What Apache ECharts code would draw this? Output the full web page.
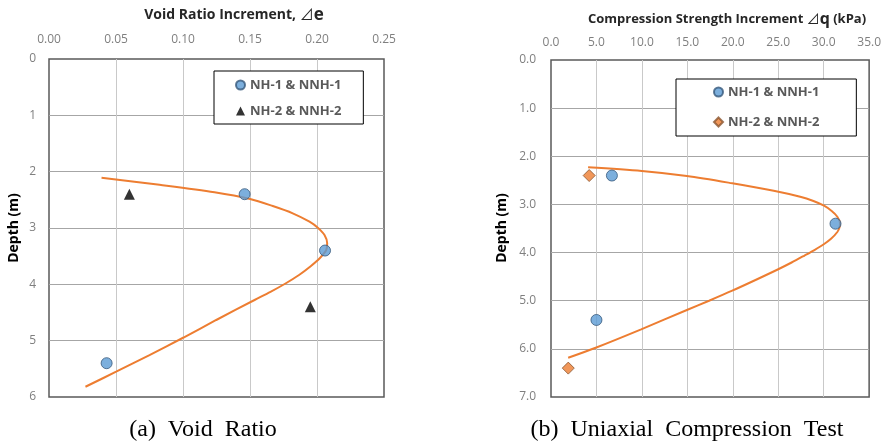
<!DOCTYPE html>
<html>
<head>
<meta charset="utf-8">
<script src="https://cdn.jsdelivr.net/npm/echarts@6/dist/echarts.min.js"></script>
<style>
  html, body { margin: 0; padding: 0; background: #ffffff; }
  #chart { width: 884px; height: 446px; }
</style>
</head>
<body>
<div id="chart"></div>
<script>
// ---- Panel (a): void ratio increment with depth ----
const voidTicksX = [0, 0.05, 0.10, 0.15, 0.20, 0.25];
const voidTicksY = [0, 1, 2, 3, 4, 5, 6];
const voidSet1 = [[0.146, 2.4], [0.206, 3.4], [0.043, 5.4]];          // NH-1 & NNH-1
const voidSet2 = [[0.060, 2.4], [0.195, 4.4]];                          // NH-2 & NNH-2
const voidTrend = [
  [0.0392, 2.107], [0.0825, 2.233], [0.1235, 2.365], [0.1501, 2.485], [0.1670, 2.610],
  [0.1819, 2.739], [0.1944, 2.888], [0.2006, 2.995], [0.2056, 3.124], [0.2076, 3.272],
  [0.2069, 3.391], [0.2022, 3.533], [0.1955, 3.675], [0.1866, 3.835], [0.1765, 3.985],
  [0.1653, 4.133], [0.1534, 4.278], [0.1248, 4.633], [0.1004, 4.944], [0.0750, 5.255],
  [0.0501, 5.551], [0.0272, 5.818]
];

// ---- Panel (b): unconfined compression strength increment with depth ----
const ucsTicksX = [0, 5, 10, 15, 20, 25, 30, 35];
const ucsTicksY = [0, 1, 2, 3, 4, 5, 6, 7];
const ucsSet1 = [[6.7, 2.4], [31.3, 3.4], [5.0, 5.4]];                  // NH-1 & NNH-1
const ucsSet2 = [[4.2, 2.4], [1.9, 6.4]];                               // NH-2 & NNH-2
const ucsTrend = [
  [4.08, 2.229], [9.99, 2.306], [14.95, 2.410], [19.94, 2.561], [24.50, 2.715],
  [27.42, 2.840], [28.87, 2.929], [30.04, 3.027], [30.88, 3.137], [31.50, 3.255],
  [31.80, 3.392], [31.74, 3.479], [31.50, 3.573], [30.84, 3.708], [29.97, 3.833],
  [28.98, 3.947], [27.89, 4.061], [26.47, 4.206], [24.94, 4.352], [22.50, 4.570],
  [19.94, 4.792], [17.39, 5.000], [14.95, 5.193], [9.92, 5.594], [4.92, 5.976],
  [1.89, 6.184]
];

const seriesNames = ['NH-1 & NNH-1', 'NH-2 & NNH-2'];

const SANS = "'Open Sans', 'Noto Sans CJK KR', sans-serif";
const SERIF = "'Liberation Serif', 'DejaVu Serif', serif";
const TICK_COLOR = '#7f7f7f';
const ORANGE = '#ED7D31';
const BLUE = '#5B9BD5';

function axisRange(ticks) {
  return { min: ticks[0], max: ticks[ticks.length - 1], interval: ticks[1] - ticks[0] };
}

function xAxisFor(gridIndex, ticks, digits, margin) {
  return Object.assign({
    type: 'value', gridIndex, position: 'top',
    axisLine: { show: false }, axisTick: { show: false },
    axisLabel: { color: TICK_COLOR, fontSize: 12, fontFamily: SANS, margin,
                 formatter: v => v.toFixed(digits) },
    splitLine: { show: true, showMinLine: false, showMaxLine: false,
                 lineStyle: { color: '#c9c9c9', width: 1 } }
  }, axisRange(ticks));
}

function yAxisFor(gridIndex, ticks, digits, margin) {
  return Object.assign({
    type: 'value', gridIndex, inverse: true,
    axisLine: { show: false }, axisTick: { show: false },
    axisLabel: { color: TICK_COLOR, fontSize: 12, fontFamily: SANS, margin,
                 formatter: v => v.toFixed(digits) },
    splitLine: { show: true, showMinLine: false, showMaxLine: false,
                 lineStyle: { color: '#a6a6a6', width: 1 } }
  }, axisRange(ticks));
}

function legendFor(prefix, left, top, padding, itemGap) {
  return {
    orient: 'vertical', left, top, padding, itemGap,
    itemWidth: 9, itemHeight: 9,
    backgroundColor: '#ffffff', borderColor: '#000000', borderWidth: 1,
    selectedMode: false,
    data: seriesNames.map(n => prefix + n),
    formatter: name => name.slice(prefix.length),
    textStyle: { color: '#595959', fontSize: 13, fontWeight: 'bold', fontFamily: SANS,
                 lineHeight: 14 }
  };
}

const gridStyle = { show: true, borderColor: '#595959', borderWidth: 1.5, backgroundColor: '#ffffff' };

const chart = echarts.init(document.getElementById('chart'), null, { renderer: 'canvas' });

chart.setOption({
  backgroundColor: '#ffffff',
  animation: false,
  grid: [
    Object.assign({ left: 49, top: 59, width: 335, height: 338 }, gridStyle),
    Object.assign({ left: 551, top: 60, width: 320, height: 337 }, gridStyle)
  ],
  xAxis: [xAxisFor(0, voidTicksX, 2, 13), xAxisFor(1, ucsTicksX, 1, 11)],
  yAxis: [yAxisFor(0, voidTicksY, 0, 13), yAxisFor(1, ucsTicksY, 1, 15)],
  legend: [
    legendFor('a:', 214, 71, [7, 22, 6, 21], 12),
    legendFor('b:', 676, 79, [6, 37, 7, 37], 16)
  ],
  series: [
    { type: 'line', xAxisIndex: 0, yAxisIndex: 0, data: voidTrend, smooth: 0.3,
      showSymbol: false, silent: true, z: 2,
      lineStyle: { color: ORANGE, width: 2 } },
    { type: 'scatter', name: 'a:' + seriesNames[0], xAxisIndex: 0, yAxisIndex: 0,
      data: voidSet1, symbol: 'circle', symbolSize: 11, z: 3, silent: true,
      itemStyle: { color: BLUE, borderColor: '#36587a', borderWidth: 1 } },
    { type: 'scatter', name: 'a:' + seriesNames[1], xAxisIndex: 0, yAxisIndex: 0,
      data: voidSet2, symbol: 'triangle', symbolSize: 11, z: 3, silent: true,
      itemStyle: { color: '#000000' } },

    { type: 'line', xAxisIndex: 1, yAxisIndex: 1, data: ucsTrend, smooth: 0.3,
      showSymbol: false, silent: true, z: 2,
      lineStyle: { color: ORANGE, width: 2 } },
    { type: 'scatter', name: 'b:' + seriesNames[0], xAxisIndex: 1, yAxisIndex: 1,
      data: ucsSet1, symbol: 'circle', symbolSize: 11, z: 3, silent: true,
      itemStyle: { color: BLUE, borderColor: '#36587a', borderWidth: 1 } },
    { type: 'scatter', name: 'b:' + seriesNames[1], xAxisIndex: 1, yAxisIndex: 1,
      data: ucsSet2, symbol: 'diamond', symbolSize: 12, z: 3, silent: true,
      itemStyle: { color: ORANGE, borderColor: '#8a5530', borderWidth: 1 } }
  ],
  graphic: [
    { type: 'text', x: 234, y: 15, silent: true,
      style: { text: '{t|Void Ratio Increment, }{d|⊿}{e|e}', align: 'center', verticalAlign: 'middle',
        rich: {
          t: { font: `bold 14px ${SANS}`, fill: '#262626' },
          d: { font: `14px ${SANS}`, fill: '#262626' },
          e: { font: `bold 17px ${SANS}`, fill: '#262626' }
        } } },
    { type: 'text', x: 727, y: 19, silent: true,
      style: { text: '{t|Compression Strength Increment }{d|⊿}{e|q}{t| (kPa)}', align: 'center', verticalAlign: 'middle',
        rich: {
          t: { font: `bold 13px ${SANS}`, fill: '#262626' },
          d: { font: `13px ${SANS}`, fill: '#262626' },
          e: { font: `bold 16px ${SANS}`, fill: '#262626' }
        } } },
    { type: 'text', x: 14, y: 228, rotation: Math.PI / 2, silent: true,
      style: { text: 'Depth (m)', font: `bold 14px ${SANS}`, fill: '#000000',
               align: 'center', verticalAlign: 'middle' } },
    { type: 'text', x: 502, y: 228, rotation: Math.PI / 2, silent: true,
      style: { text: 'Depth (m)', font: `bold 14px ${SANS}`, fill: '#000000',
               align: 'center', verticalAlign: 'middle' } },
    { type: 'text', x: 203, y: 430, silent: true,
      style: { text: '(a)  Void  Ratio', font: `24px ${SERIF}`, fill: '#000000',
               align: 'center', verticalAlign: 'middle' } },
    { type: 'text', x: 687, y: 430, silent: true,
      style: { text: '(b)  Uniaxial  Compression  Test', font: `24px ${SERIF}`, fill: '#000000',
               align: 'center', verticalAlign: 'middle' } }
  ]
});
</script>
</body>
</html>
